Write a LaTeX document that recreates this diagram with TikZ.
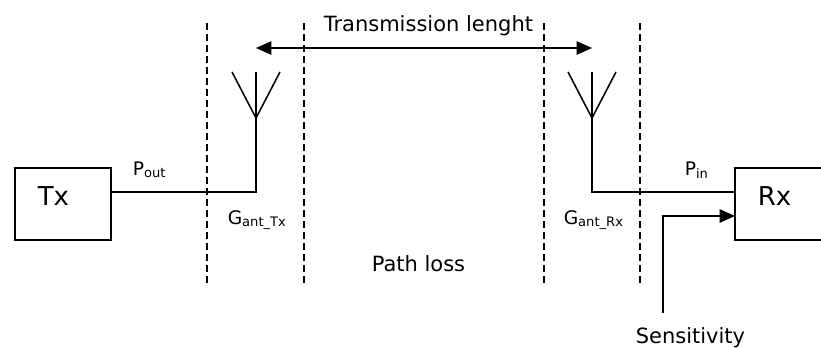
\documentclass[tikz,border=0pt]{standalone}
\usepackage{fontspec}
\setmainfont{DejaVu Sans}
\usetikzlibrary{arrows.meta,calc}

\begin{document}
\begin{tikzpicture}[x=0.75pt,y=-0.75pt,line width=1.15pt,
    every node/.style={font=\fontsize{15.75}{18}\selectfont, inner sep=0pt, anchor=base west},
    unit/.style={draw, line width=1.15pt, minimum width=72pt, minimum height=54pt, outer sep=0pt, anchor=center},
    gain/.style={font=\fontsize{14}{16}\selectfont},
    unitname/.style={font=\fontsize{19.5}{22}\selectfont},
    border/.style={line width=1.05pt, dash pattern=on 5.25pt off 3pt},
    sigarrow/.style={-{Triangle[length=11.5pt,width=10pt]}},
    lenarrow/.style={{Triangle[length=11.5pt,width=10pt]}-{Triangle[length=11.5pt,width=10pt]}}]
        \clip (0,0) rectangle (821,347);
        \node[unit] (Tx) at (63,204) {};
        \node[unit] (Rx) at (783,204) {};
        \node[unitname] (TxName) at (37,205) {Tx};
        \node[unitname] (RxName) at (757,205) {Rx};
        \draw[border] (207,23) -- (207,283);
        \draw[border] (304,23) -- (304,283);
        \draw[border] (544,23) -- (544,283);
        \draw[border] (640,23) -- (640,283);
        \coordinate (apexTx) at (256,118);
        \coordinate (apexRx) at (592,118);
        \coordinate (feedTx) at ($(Tx.north east)!1/3!(Tx.south east)$);
        \coordinate (feedRx) at ($(Rx.north west)!1/3!(Rx.south west)$);
        \coordinate (sensIn) at ($(Rx.north west)!2/3!(Rx.south west)$);
        \coordinate (sens) at (663,313);
        \coordinate (lenL) at (256,48);
        \coordinate (lenR) at (592,48);
        \draw (feedTx) -- (apexTx |- feedTx) -- (apexTx);
        \draw (apexTx) -- (256,72);
        \draw (232,72) -- (apexTx) -- (280,72);
        \draw (feedRx) -- (apexRx |- feedRx) -- (apexRx);
        \draw (apexRx) -- (592,72);
        \draw (568,72) -- (apexRx) -- (616,72);
        \draw[lenarrow] (lenL) -- (lenR);
        \draw[sigarrow] (sens) |- (sensIn);
        \node (len) at (323,31) {Transmission lenght};
        \node[gain] (pout) at (132,175) {P\textsubscript{out}};
        \node[gain] (gtx) at (227,224) {G\textsubscript{ant\_Tx}};
        \node (loss) at (371,271) {Path loss};
        \node[gain] (grx) at (563,224) {G\textsubscript{ant\_Rx}};
        \node[gain] (pin) at (684,175) {P\textsubscript{in}};
        \node (sensText) at (635,343) {Sensitivity};
    \end{tikzpicture}
\end{document}
